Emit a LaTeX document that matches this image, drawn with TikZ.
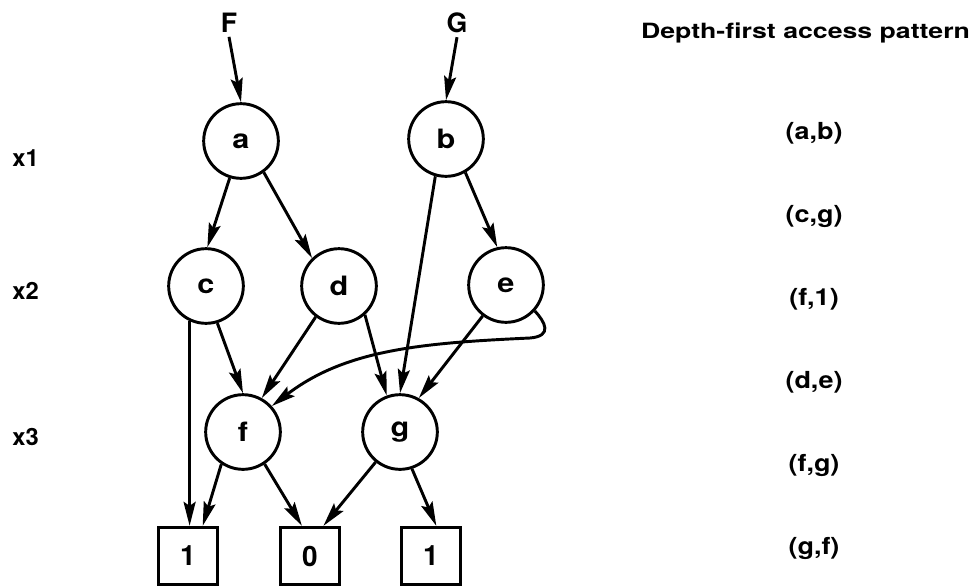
\documentclass[tikz,border=0pt]{standalone}
\usepackage{fontspec}
\setmainfont{TeX Gyre Heros}
\newfontfamily\wideheros{TeX Gyre Heros}[FakeStretch=1.15]
\newfontfamily\widerheros{TeX Gyre Heros}[FakeStretch=1.27]
\usetikzlibrary{arrows.meta,calc}

\begin{document}
\begin{tikzpicture}[x=0.75pt,y=-0.75pt,
  line width=2.2pt,
  var/.style={circle,draw,minimum size=56pt,inner sep=0pt,
    font=\wideheros\bfseries\fontsize{20}{24}\selectfont},
  leaf/.style={rectangle,draw,minimum width=44pt,minimum height=43pt,inner sep=0pt,
    font=\bfseries\fontsize{21}{24}\selectfont},
  edge/.style={-{Stealth[length=18pt,width=9pt,inset=3pt]}},
  root/.style={inner sep=2pt,font=\bfseries\fontsize{20}{24}\selectfont},
  level/.style={inner sep=0pt,font=\bfseries\fontsize{17.8}{20}\selectfont},
  pair/.style={inner sep=0pt,font=\wideheros\bfseries\fontsize{17.6}{20}\selectfont},
  heading/.style={inner sep=0pt,anchor=base,font=\widerheros\bfseries\fontsize{15.75}{18}\selectfont}]
\useasboundingbox (0,0) rectangle (975,587);

% function roots
\node[root] (F) at (229,23) {F};
\node[root] (G) at (457,23) {G};

% variable levels
\node[level] (x1) at (25.5,158) {x1};
\node[level] (x2) at (25.5,291) {x2};
\node[level] (x3) at (25.5,437) {x3};

% decision nodes
\node[var] (a) at (241,141) {a};
\node[var] (b) at (446,139) {b};
\node[var] (c) at (206,286) {c};
\node[var] (d) at (339,286) {d};
\node[var] (e) at (506,285) {e};
\node[var] (f) at (243,432) {f};
\node[var] (g) at (400,432) {g};

% terminal nodes
\node[leaf] (oneA) at (188,556) {1};
\node[leaf] (zero) at (310,556) {0};
\node[leaf] (oneB) at (431,556) {1};

% edges
\draw[edge] (F.south) -- (a.north);
\draw[edge] (G.south) -- (b.north);
\draw[edge] (a.-107) -- (c.88);
\draw[edge] (a.-54) -- (d.134);
\draw[edge] (b.-60) -- (e.103);
\draw[edge] (b.-106) -- (g.north);
\draw[edge] (c.-115) -- (c.-115 |- oneA.north);
\draw[edge] (c.-73) -- (f.north);
\draw[edge] (d.-127) -- (f.61);
\draw[edge] (d.-48) -- (g.110);
\draw[edge] (e.-127) -- (g.61);
\draw[edge] (e.-42) .. controls (545,322) and (553,336) .. (530,338)
  .. controls (420,343) and (345,350) .. (f.42);
\draw[edge] (f.-124) -- (oneA.64);
\draw[edge] (f.-56) -- (zero.105);
\draw[edge] (g.-129) -- (zero.66);
\draw[edge] (g.-72) -- (oneB.80);

% access order
\node[heading] (head) at (805.5,38) {Depth-first access pattern};
\node[pair] (p1) at (814,133) {(a,b)};
\node[pair] (p2) at (814,216) {(c,g)};
\node[pair] (p3) at (814,299) {(f,1)};
\node[pair] (p4) at (814,382) {(d,e)};
\node[pair] (p5) at (814,465) {(f,g)};
\node[pair] (p6) at (814,548) {(g,f)};
\end{tikzpicture}
\end{document}
